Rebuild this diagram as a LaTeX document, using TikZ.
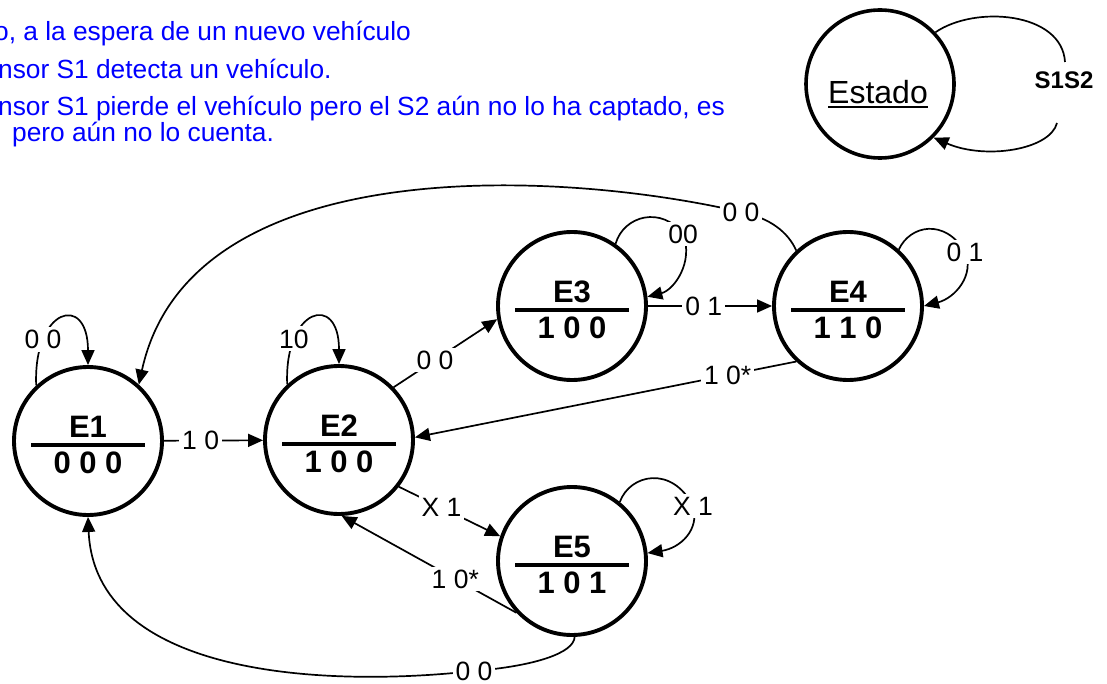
\documentclass[tikz,border=0pt]{standalone}
\usepackage{fontspec}
\setmainfont{Liberation Sans}
\usetikzlibrary{arrows.meta,calc}
\definecolor{txtblue}{RGB}{0,0,255}
\newcommand\myul[1]{\setbox0\hbox{#1}\rlap{\rule[-5pt]{\wd0}{2.6pt}}\box0}
\begin{document}
\begin{tikzpicture}[x=1pt,y=-1pt,
  state/.style={draw,circle,line width=3.9pt,minimum size=148pt,inner sep=0pt},
  stitle/.style={font=\fontsize{31}{31}\selectfont\bfseries,inner sep=0pt},
  srule/.style={fill=black,minimum width=114pt,minimum height=4pt,inner sep=0pt},
  wire/.style={line width=1.7pt},
  conn/.style={wire,-{Triangle[length=15pt,width=13pt]}},
  lbl/.style={fill=white,font=\fontsize{26.5}{26.5}\selectfont,inner sep=3pt},
  note/.style={text=txtblue,font=\fontsize{26.3}{26.3}\selectfont,anchor=base west,inner sep=0pt}]
\clip (0,0) rectangle (1107,684);
\useasboundingbox (0,0) rectangle (1107,684);

% notes
\node[note] (n1) at (-6,41) {o, a la espera de un nuevo vehículo};
\node[note] (n2) at (-2,79) {nsor S1 detecta un vehículo.};
\node[note] (n3) at (-2,116) {nsor S1 pierde el vehículo pero el S2 aún no lo ha captado, es};
\node[note] (n4) at (12,142) {pero aún no lo cuenta.};

% states
\foreach \n/\x/\y/\v in {E1/88/441/0 0 0, E2/339/440/1 0 0, E3/572/306/1 0 0, E4/848/306/1 1 0, E5/572/561/1 0 1}{
  \node[state] (\n) at (\x,\y) {};
  \node[stitle] (\n t) at ($(\n)+(0,-14)$) {\n};
  \node[srule] (\n r) at ($(\n)+(0,4)$) {};
  \node[stitle] (\n v) at ($(\n)+(0,22)$) {\v};
}

% legend
\node[state,line width=3.6pt] (L) at (880,84) {};
\node[anchor=base,inner sep=0pt,font=\fontsize{32}{32}\selectfont] (Lt) at (878,103.5) {\myul{Estado}};
\coordinate (s1) at (1065,62);
\coordinate (s2) at (1057,123);
\draw[wire] (L.43) .. controls (975,5) and (1062,12) .. (s1);
\node[font=\fontsize{24}{24}\selectfont\bfseries,inner sep=0pt] (S) at (1064,80) {S1S2};
\draw[conn] (s2) .. controls (1050,150) and (985,160) .. (L.-45);

% self loops
\draw[conn] (E1.133) .. controls (33,308) and (88,292) .. node[lbl,pos=0.25] {0 0} (E1.90);
\draw[conn] (E2.133) .. controls (284,308) and (339,292) .. node[lbl,pos=0.25] {10} (E2.90);
\draw[conn] (E3.55) .. controls (624,215) and (662,206) .. (683,234) node[lbl] {00} .. controls (694,262) and (674,290) .. (E3.7);
\draw[conn] (E4.48) .. controls (910,225) and (945,218) .. (965,252) node[lbl] {0 1} .. controls (975,275) and (955,298) .. (E4.0);
\draw[conn] (E5.51) .. controls (630,474) and (672,465) .. (693,506) node[lbl] {X 1} .. controls (700,530) and (680,548) .. (E5.6);

% transitions
\draw[conn] (E1) -- node[lbl,pos=0.37] {1 0} (E2);
\draw[conn] (E2.44) -- node[lbl,pos=0.4] {0 0} (E3.190);
\draw[conn] (E3) -- node[lbl,pos=0.45] {0 1} (E4);
\draw[conn] (E4.133) .. controls (788,232) and (770,218) .. (741,212) node[lbl] {0 0} .. controls (560,170) and (190,150) .. (E1.48);
\draw[conn] (E4.227) -- node[lbl,pos=0.18] {1 0*} (E2.2);
\draw[conn] (E2.-38) -- node[lbl,pos=0.42] {X 1} (E5.161);
\draw[conn] (E5.223) -- node[lbl,pos=0.35] {1 0*} (E2.-88);
\draw[conn] (E5.272) .. controls (574,653) and (535,666) .. (474,671) node[lbl] {0 0} .. controls (320,688) and (95,675) .. (E1.270);
\end{tikzpicture}
\end{document}
